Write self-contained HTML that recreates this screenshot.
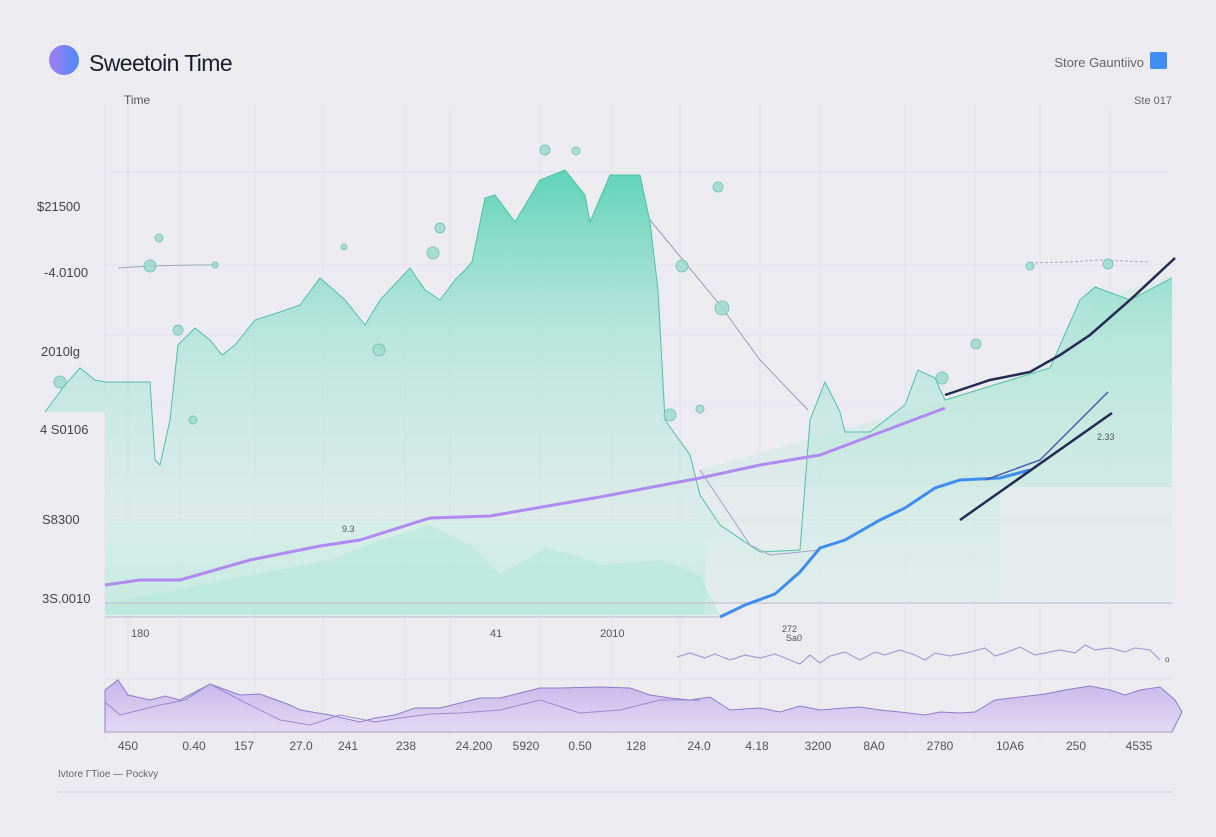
<!DOCTYPE html>
<html><head><meta charset="utf-8"><style>
html,body{margin:0;padding:0;background:#ececf0;}
body{width:1216px;height:832px;overflow:hidden;font-family:"Liberation Sans",sans-serif;}
</style></head><body>
<svg width="1216" height="832" viewBox="0 0 1216 832" xmlns="http://www.w3.org/2000/svg">
<defs>
<linearGradient id="tg" x1="0" y1="0" x2="0" y2="1">
<stop offset="0" stop-color="#5fd3b8"/><stop offset="0.4" stop-color="#a8e4d3" stop-opacity="0.7"/><stop offset="1" stop-color="#d9eeea" stop-opacity="0.35"/>
</linearGradient>
<linearGradient id="bg2" x1="0" y1="0" x2="0" y2="1">
<stop offset="0" stop-color="#d5efe8"/><stop offset="1" stop-color="#b7e8da"/>
</linearGradient>
<linearGradient id="pg" x1="0" y1="0" x2="0" y2="1">
<stop offset="0" stop-color="#c6b6ea"/><stop offset="1" stop-color="#e2daf4"/>
</linearGradient>
<linearGradient id="cg" x1="0" y1="0" x2="1" y2="0"><stop offset="0" stop-color="#a57cf3"/><stop offset="1" stop-color="#4b8cf6"/></linearGradient>
</defs>
<rect width="1216" height="832" fill="#ececf0"/>
<g stroke="#e2e2ea" stroke-width="1">
<line x1="105" y1="105" x2="105" y2="740"/><line x1="128" y1="105" x2="128" y2="740"/>
<line x1="180" y1="105" x2="180" y2="740"/><line x1="255" y1="105" x2="255" y2="740"/>
<line x1="323" y1="105" x2="323" y2="740"/><line x1="405" y1="105" x2="405" y2="740"/>
<line x1="450" y1="105" x2="450" y2="740"/><line x1="540" y1="105" x2="540" y2="740"/>
<line x1="612" y1="105" x2="612" y2="740"/><line x1="680" y1="105" x2="680" y2="740"/>
<line x1="760" y1="105" x2="760" y2="740"/><line x1="820" y1="105" x2="820" y2="740"/>
<line x1="905" y1="105" x2="905" y2="740"/><line x1="975" y1="105" x2="975" y2="740"/>
<line x1="1040" y1="105" x2="1040" y2="740"/><line x1="1110" y1="105" x2="1110" y2="740"/>
<line x1="105" y1="172" x2="1172" y2="172"/><line x1="105" y1="265" x2="1172" y2="265"/>
<line x1="105" y1="335" x2="1172" y2="335"/><line x1="105" y1="405" x2="1172" y2="405"/>
<line x1="105" y1="487" x2="1172" y2="487"/>
</g>
<path d="M700,470 L945,400 L1050,365 L1100,300 L1172,275 L1172,487 L700,487 Z" fill="#d6ebe6" opacity="0.7"/>
<path d="M700,487 L1172,487 L1172,603 L700,603Z" fill="#e3ecec" opacity="0.7"/>
<path d="M45,412 L65,385 L80,368 L95,380 L105,382 L150,382 L155,460 L160,465 L170,420 L178,345 L195,328 L210,340 L222,355 L235,345 L255,320 L280,312 L300,305 L320,278 L345,300 L365,325 L380,300 L410,268 L425,290 L440,300 L455,280 L465,270 L472,262 L485,198 L495,195 L515,222 L540,180 L565,170 L585,195 L590,222 L610,175 L640,175 L650,222 L658,290 L665,420 L690,455 L700,495 L720,525 L760,552 L800,550 L810,420 L825,382 L840,412 L845,432 L870,432 L905,405 L918,370 L935,378 L945,400 L1050,368 L1080,300 L1095,287 L1130,300 L1172,278 L1172,487 L1000,487 L1000,603 L105,603 L105,412 Z" fill="url(#tg)"/>
<path d="M45,412 L65,385 L80,368 L95,380 L105,382 L150,382 L155,460 L160,465 L170,420 L178,345 L195,328 L210,340 L222,355 L235,345 L255,320 L280,312 L300,305 L320,278 L345,300 L365,325 L380,300 L410,268 L425,290 L440,300 L455,280 L465,270 L472,262 L485,198 L495,195 L515,222 L540,180 L565,170 L585,195 L590,222 L610,175 L640,175 L650,222 L658,290 L665,420 L690,455 L700,495 L720,525 L760,552 L800,550 L810,420 L825,382 L840,412 L845,432 L870,432 L905,405 L918,370 L935,378 L945,400 L1050,368 L1080,300 L1095,287 L1130,300 L1172,278" fill="none" stroke="#4fbfa6" stroke-width="1"/>
<rect x="105" y="520" width="600" height="95" fill="url(#bg2)" opacity="0.7"/>
<path d="M105,603 L330,560 L380,540 L430,525 L470,545 L500,575 L545,548 L575,555 L600,565 L660,560 L700,575 L720,615 L105,615Z" fill="#b5e8da" opacity="0.6"/>
<path d="M105,520 L1172,520" stroke="#d3e2de"/>
<line x1="105" y1="603" x2="1172" y2="603" stroke="#c7c9d8" stroke-width="1.5"/>
<line x1="105" y1="617" x2="720" y2="617" stroke="#c7c9d8" stroke-width="1.5"/>
<path d="M650,220 L720,305 L760,360 L808,410" stroke="#9a9ab8" fill="none" stroke-width="1"/>
<path d="M118,268 L150,266 L195,265 L215,265" stroke="#9aa" fill="none"/>
<path d="M1030,263 L1070,262 L1100,260 L1150,262" stroke="#aab" fill="none" stroke-dasharray="3,2"/>
<g fill="#9bdccb" stroke="#6cc1ad" stroke-width="1" opacity="0.85">
<circle cx="150" cy="266" r="6"/><circle cx="60" cy="382" r="6"/><circle cx="178" cy="330" r="5"/>
<circle cx="193" cy="420" r="4"/><circle cx="379" cy="350" r="6"/><circle cx="433" cy="253" r="6"/>
<circle cx="440" cy="228" r="5"/><circle cx="545" cy="150" r="5"/><circle cx="576" cy="151" r="4"/>
<circle cx="718" cy="187" r="5"/><circle cx="682" cy="266" r="6"/><circle cx="722" cy="308" r="7"/>
<circle cx="670" cy="415" r="6"/><circle cx="700" cy="409" r="4"/><circle cx="942" cy="378" r="6"/>
<circle cx="976" cy="344" r="5"/><circle cx="1030" cy="266" r="4"/><circle cx="1108" cy="264" r="5"/>
<circle cx="159" cy="238" r="4"/><circle cx="344" cy="247" r="3"/><circle cx="215" cy="265" r="3"/>
</g>
<path d="M105,585 L140,580 L180,580 L250,560 L320,546 L360,540 L430,518 L490,516 L600,497 L700,478 L760,465 L820,455 L860,440 L945,408" stroke="#b089f2" fill="none" stroke-width="3"/>
<path d="M700,470 L720,500 L750,545 L770,555 L820,550" stroke="#a69ec8" fill="none" stroke-width="1"/>
<path d="M720,617 L745,605 L775,594 L800,572 L820,548 L845,540 L880,520 L905,508 L935,488 L960,480 L1000,478 L1030,470" stroke="#3d8ef0" fill="none" stroke-width="3"/>
<path d="M945,395 L990,380 L1030,372 L1060,355 L1090,335 L1130,300 L1175,258" stroke="#232a55" fill="none" stroke-width="2.5"/>
<path d="M960,520 L1112,413" stroke="#232a55" fill="none" stroke-width="2.5"/>
<path d="M985,480 L1040,460 L1108,392" stroke="#4a5fb0" fill="none" stroke-width="1.5"/>
<path d="M677,657 L690,653 L705,658 L715,654 L730,660 L745,655 L760,658 L775,654 L790,660 L800,664 L810,655 L820,663 L830,656 L845,652 L860,660 L875,652 L885,655 L900,650 L915,655 L925,660 L935,653 L950,656 L970,652 L985,648 L995,656 L1005,653 L1020,647 L1035,655 L1050,652 L1060,650 L1075,653 L1085,645 L1095,650 L1110,648 L1125,652 L1135,648 L1150,650 L1160,660" stroke="#a99bd8" fill="none" stroke-width="1.2"/>
<line x1="105" y1="679" x2="1172" y2="679" stroke="#dcdce6"/>
<path d="M105,690 L118,680 L128,695 L150,700 L165,696 L180,700 L210,684 L240,695 L260,694 L290,705 L300,710 L330,715 L360,722 L375,718 L395,715 L415,708 L440,708 L460,703 L480,698 L500,698 L520,693 L540,688 L560,688 L600,687 L630,688 L650,695 L670,698 L690,700 L710,697 L730,710 L760,708 L780,712 L800,706 L820,710 L845,708 L860,707 L880,710 L900,712 L925,715 L940,712 L960,713 L975,712 L995,700 L1020,697 L1045,694 L1065,690 L1090,686 L1110,690 L1125,695 L1140,690 L1160,687 L1175,700 L1182,712 L1172,732 L105,732 Z" fill="url(#pg)" stroke="#8f7bcc" stroke-width="1"/>
<path d="M105,702 L120,715 L140,710 L160,705 L185,700 L210,684 L240,700 L280,720 L310,725 L340,715 L375,722 L400,718 L430,714 L460,713 L500,710 L540,700 L580,713 L620,710 L660,700 L700,700" stroke="#9b88d2" fill="none" stroke-width="1"/>
<line x1="105" y1="732" x2="1172" y2="732" stroke="#b9b5cc" stroke-width="1.5"/>
<line x1="58" y1="792" x2="1172" y2="792" stroke="#d6d6e0" stroke-width="1.5"/>
<circle cx="64" cy="60" r="15" fill="url(#cg)"/>
<text x="89" y="71" font-size="23" fill="#1c1c2a" letter-spacing="-0.6">Sweetoin Time</text>
<text x="124" y="104" font-size="12" fill="#555">Time</text>
<text x="1144" y="67" font-size="13" fill="#666" text-anchor="end">Store Gauntiivo</text>
<rect x="1150" y="52" width="17" height="17" rx="2" fill="#3f8ef6"/>
<text x="1172" y="104" font-size="11" fill="#666" text-anchor="end">Ste 017</text>
<g font-size="13" fill="#444">
<text x="37" y="211">$21500</text><text x="44" y="277">-4.0100</text>
<text x="41" y="356">2010lg</text><text x="40" y="434">4 S0106</text>
<text x="42" y="524">S8300</text><text x="42" y="603">3S.0010</text>
</g>
<g font-size="11" fill="#555">
<text x="131" y="637">180</text><text x="490" y="637">41</text><text x="600" y="637">2010</text>
<text x="782" y="632" font-size="9">272</text><text x="786" y="641" font-size="9">Sa0</text>
<text x="342" y="532" font-size="9">9.3</text><text x="1097" y="440" font-size="9">2.33</text>
<text x="1165" y="662" font-size="8">o</text>
</g>
<g font-size="12" fill="#555" text-anchor="middle">
<text x="128" y="750">450</text><text x="194" y="750">0.40</text><text x="244" y="750">157</text>
<text x="301" y="750">27.0</text><text x="348" y="750">241</text><text x="406" y="750">238</text>
<text x="474" y="750">24.200</text><text x="526" y="750">5920</text><text x="580" y="750">0.50</text>
<text x="636" y="750">128</text><text x="699" y="750">24.0</text><text x="757" y="750">4.18</text>
<text x="818" y="750">3200</text><text x="874" y="750">8A0</text><text x="940" y="750">2780</text>
<text x="1010" y="750">10A6</text><text x="1076" y="750">250</text><text x="1139" y="750">4535</text>
</g>
<text x="58" y="777" font-size="10" fill="#666">Ivtore ΓTioe — Pockvy</text>
</svg>
</body></html>
